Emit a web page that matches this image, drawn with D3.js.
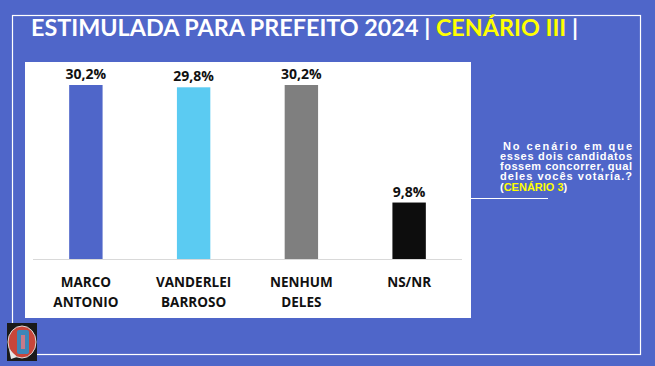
<!DOCTYPE html>
<html><head><meta charset="utf-8">
<script src="https://cdn.jsdelivr.net/npm/d3@7"></script>
<style>
html,body{margin:0;padding:0;background:#4F66C9;}
</style></head>
<body><svg id="chart" width="655" height="366"></svg>
<script>
const categories = [["MARCO","ANTONIO"],["VANDERLEI","BARROSO"],["NENHUM","DELES"],["NS/NR"]];
const values = [30.2, 29.8, 30.2, 9.8];
const valueLabels = ["30,2%","29,8%","30,2%","9,8%"];
const barColors = ["#4F66C9","#5BCBF2","#7F7F7F","#0D0D0D"];
const titleMain = "ESTIMULADA PARA PREFEITO 2024 | ";
const titleHi = "CENÁRIO III";
const titleEnd = " |";
const noteLines = ["No cenário em que","esses dois candidatos","fossem concorrer, qual","deles vocês votaria.?"];
const noteLast = ["(", "CENÁRIO 3", ")"];

const svg = d3.select("#chart");
svg.append("rect").attr("width",655).attr("height",366).attr("fill","#4F66C9");
// outer border
svg.append("rect").attr("x",12.5).attr("y",15.5).attr("width",628).attr("height",339)
  .attr("fill","none").attr("stroke","#fff").attr("stroke-width",1.2);
// title
const t = svg.append("text").attr("x",31).attr("y",36)
  .attr("font-family","Lato, sans-serif").attr("font-size",23).attr("font-weight",700)
  .attr("fill","#fff").attr("textLength",547).attr("lengthAdjust","spacingAndGlyphs");
t.append("tspan").text(titleMain);
t.append("tspan").attr("fill","#FFFF00").text(titleHi);
t.append("tspan").text(titleEnd);

// chart panel
svg.append("rect").attr("x",25).attr("y",62).attr("width",446).attr("height",256).attr("fill","#fff");

const x = d3.scaleBand().domain(d3.range(values.length)).range([32,463]).paddingInner(0.69).paddingOuter(0.345);
const y = d3.scaleLinear().domain([0,30.2]).range([259,85]);

svg.append("line").attr("x1",33).attr("x2",462).attr("y1",259.5).attr("y2",259.5).attr("stroke","#D9D9D9").attr("stroke-width",1);

svg.selectAll("rect.bar").data(values).join("rect").attr("class","bar")
  .attr("x",(d,i)=>x(i)).attr("width",x.bandwidth())
  .attr("y",d=>y(d)).attr("height",d=>y(0)-y(d))
  .attr("fill",(d,i)=>barColors[i]);

svg.selectAll("text.val").data(values).join("text").attr("class","val")
  .attr("x",(d,i)=>x(i)+x.bandwidth()/2).attr("y",d=>y(d)-6)
  .attr("text-anchor","middle").attr("font-family","Open Sans, sans-serif")
  .attr("font-weight",700).attr("font-size",14).attr("fill","#111")
  .text((d,i)=>valueLabels[i]);

const cl = svg.selectAll("text.cat").data(categories).join("text").attr("class","cat")
  .attr("text-anchor","middle").attr("font-family","Open Sans, sans-serif")
  .attr("font-weight",700).attr("font-size",13.5).attr("fill","#111");
cl.each(function(d,i){
  const el = d3.select(this);
  d.forEach((line,j)=>{
    el.append("tspan").attr("x",x(i)+x.bandwidth()/2).attr("y",287+j*20).text(line);
  });
});

// justified note (each line stretched to the column width)
const nx0 = 500, nx1 = 632;
const noteFamily = "Liberation Sans, Arial, sans-serif";
noteLines.forEach((line,li)=>{
  const start = li===0 ? nx0+3 : nx0;
  svg.append("text").attr("x",start).attr("y",150+li*10)
    .attr("font-family",noteFamily).attr("font-size",11).attr("font-weight",700)
    .attr("fill","#fff").attr("textLength",nx1-start).attr("lengthAdjust","spacing")
    .attr("xml:space","preserve").text(line);
});
const lt = svg.append("text").attr("x",nx0).attr("y",191)
  .attr("font-family",noteFamily).attr("font-size",11).attr("font-weight",700).attr("fill","#fff");
noteLast.forEach((s,k)=>lt.append("tspan").attr("fill",k===1?"#FFFF00":"#fff").text(s));

// note underline
svg.append("line").attr("x1",470).attr("x2",548).attr("y1",198.5).attr("y2",198.5).attr("stroke","#fff").attr("stroke-width",1);

// logo
const lg = svg.append("g").attr("transform","translate(7,323)");
lg.append("rect").attr("width",30).attr("height",38).attr("fill","#1a1a1a");
lg.append("ellipse").attr("cx",15).attr("cy",19).attr("rx",14).attr("ry",16).attr("fill","#C9463A").attr("stroke","#ddd").attr("stroke-width",1);
lg.append("rect").attr("x",10).attr("y",7).attr("width",12).attr("height",24).attr("rx",2).attr("fill","#3E86B8");
lg.append("rect").attr("x",14).attr("y",12).attr("width",4).attr("height",14).attr("fill","#C97A8A");
lg.append("path").attr("d","M2,26 L10,34 L4,36 Z").attr("fill","#e8e8e8");
</script></body></html>
